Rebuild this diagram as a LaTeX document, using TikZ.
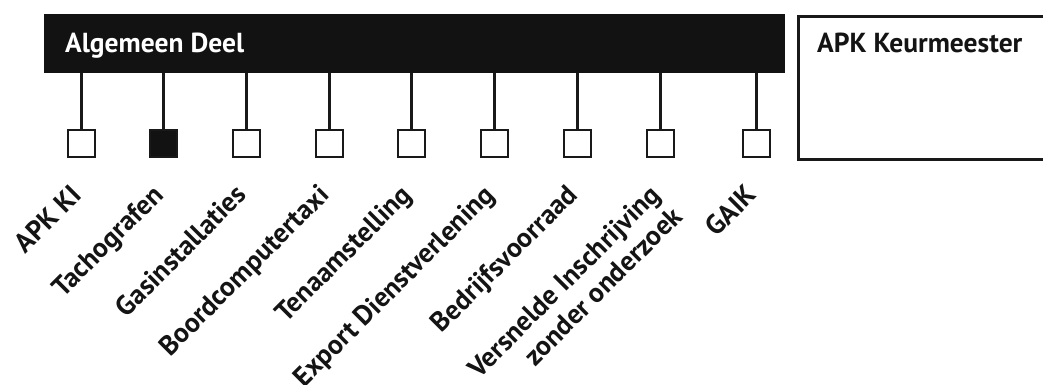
\documentclass[tikz,border=0pt]{standalone}
\usepackage{fontspec}
\setmainfont{PT Sans}
\begin{document}
\begin{tikzpicture}[x=1pt,y=-1pt,
  barbox/.style={fill=black!93, draw=none, minimum width=741pt, minimum height=59pt, inner sep=0pt},
  sq/.style={draw=black!90, line width=2.4pt, fill=white, minimum size=26.5pt, inner sep=0pt},
  sqfilled/.style={sq, fill=black!93},
  conn/.style={draw=black!90, line width=2.3pt},
  lbl/.style={font=\fontsize{27.5}{31}\selectfont\bfseries, rotate=45, anchor=north east, inner sep=0pt, align=right, text=black!92},
  head/.style={font=\fontsize{27.5}{30}\selectfont\bfseries, anchor=base west, inner sep=0pt}
]
\useasboundingbox (0,0) rectangle (1043,385);
\clip (0,0) rectangle (1043,385);
\node[barbox] (bar) at (414.5,43.5) {};
\node[head, text=white] (bartext) at (65,53) {Algemeen Deel};
\node[draw=black!90, line width=2.5pt, minimum width=270pt, minimum height=143pt, inner sep=0pt, anchor=north west] (keur) at (797.2,15.2) {};
\node[head, text=black!92] (keurtext) at (817,53) {APK Keurmeester};
\foreach \i/\x/\t in {1/81/{APK KI},2/163/{Tachografen},3/246/{Gasinstallaties},4/329/{Boordcomputertaxi},5/411/{Tenaamstelling},6/494/{Export Dienstverlening},7/577/{Bedrijfsvoorraad},8/660/{Versnelde Inschrijving\\zonder onderzoek},9/756/{GAIK}}{
  \ifnum\i=2
    \node[sqfilled] (s\i) at (\x+0.5,143.5) {};
  \else
    \node[sq] (s\i) at (\x+0.5,143.5) {};
  \fi
  \draw[conn] (s\i.north) -- (s\i.north |- bar.south);
  \node[lbl] (l\i) at (\x-12,182.5) {\t};
}
\end{tikzpicture}
\end{document}
